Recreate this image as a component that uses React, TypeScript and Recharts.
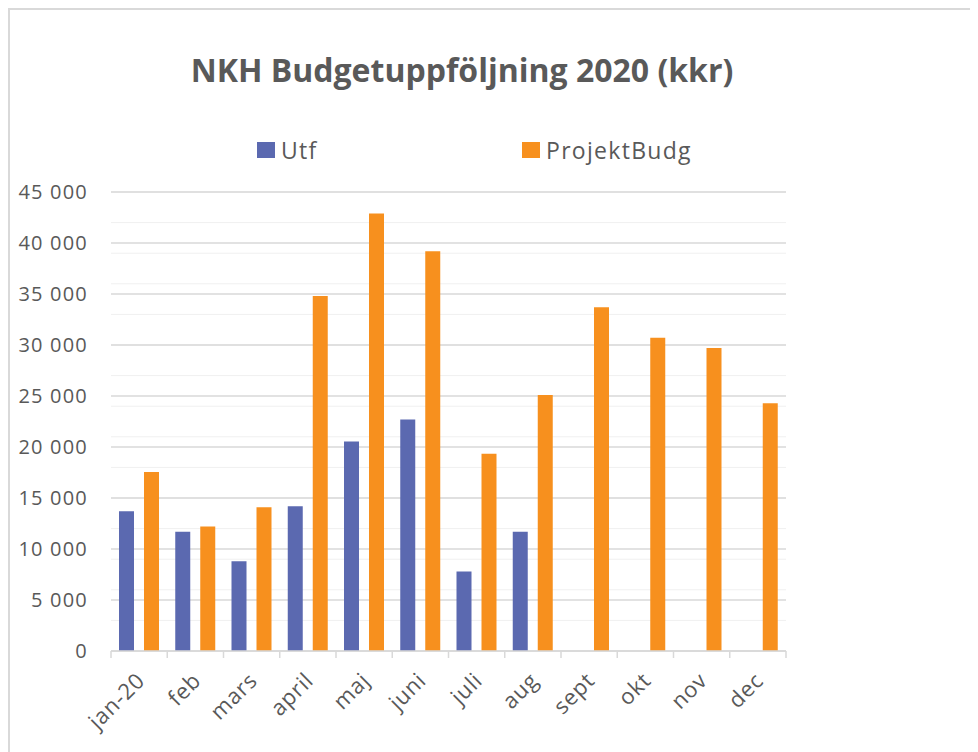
import { BarChart, Bar, XAxis, YAxis, CartesianGrid, Legend } from "recharts";

const months = ["jan-20", "feb", "mars", "april", "maj", "juni", "juli", "aug", "sept", "okt", "nov", "dec"];
const utf = [13700, 11700, 8800, 14200, 20550, 22700, 7800, 11700, null, null, null, null];
const projektBudg = [17550, 12200, 14100, 34800, 42900, 39200, 19350, 25100, 33700, 30700, 29700, 24300];
const yTicks = [0, 5000, 10000, 15000, 20000, 25000, 30000, 35000, 40000, 45000];
const minorTicks = Array.from({ length: 46 }, (_, i) => i * 1000);
const seriesOrder = ["Utf", "ProjektBudg"];

const data = months.map((m, i) => ({ name: m, Utf: utf[i], ProjektBudg: projektBudg[i] }));

const FONT = "'Open Sans', Lato, sans-serif";
const TEXT = "#595959";
const CHART_W = 960;
const CHART_H = 734;
const MARGIN = { top: 182, right: 184, left: 0, bottom: 0 };
const Y_W = 101;
const BAND = (CHART_W - MARGIN.right - Y_W) / months.length;

const fmt = (v: number) => String(v).replace(/\B(?=(\d{3})+(?!\d))/g, " ");

function MonthTick(props: any) {
  const { x, y, payload, index } = props;
  const last = index === months.length - 1;
  const tx = x + 7;
  const ty = y + 31;
  return (
    <g>
      <line x1={x - BAND / 2} x2={x - BAND / 2} y1={y} y2={y + 7} stroke="#d9d9d9" strokeWidth={1.5} />
      {last && <line x1={x + BAND / 2} x2={x + BAND / 2} y1={y} y2={y + 7} stroke="#d9d9d9" strokeWidth={1.5} />}
      <text
        x={tx}
        y={ty}
        textAnchor="end"
        fill={TEXT}
        fontSize={22}
        fontFamily={FONT}
        letterSpacing={0.8}
        transform={`rotate(-45, ${tx}, ${ty})`}
      >
        {payload.value}
      </text>
    </g>
  );
}

function LegendContent(props: any) {
  const items = [...(props.payload || [])].sort(
    (a: any, b: any) => seriesOrder.indexOf(a.value) - seriesOrder.indexOf(b.value)
  );
  return (
    <div style={{ display: "flex", fontFamily: FONT, fontSize: 23, letterSpacing: 1.3, color: TEXT }}>
      {items.map((p: any, i: number) => (
        <div key={p.value} style={{ display: "flex", alignItems: "center", width: i === 0 ? 265 : "auto" }}>
          <span style={{ display: "inline-block", width: 18, height: 16, background: p.color, marginRight: 6 }} />
          <span>{p.value}</span>
        </div>
      ))}
    </div>
  );
}

export default function App() {
  return (
    <div
      style={{
        position: "relative",
        width: 980,
        height: 760,
        borderTop: "2px solid #d9d9d9",
        borderLeft: "2px solid #d9d9d9",
        boxSizing: "border-box",
        background: "#fff",
      }}
    >
      <div
        style={{
          position: "absolute",
          top: 44,
          left: 0,
          width: 904,
          textAlign: "center",
          fontFamily: FONT,
          fontWeight: 700,
          fontSize: 32,
          lineHeight: 1,
          color: TEXT,
          zIndex: 2,
        }}
      >
        NKH Budgetuppföljning 2020 (kkr)
      </div>
      <BarChart width={CHART_W} height={CHART_H} data={data} margin={MARGIN} barSize={15} barGap={10}>
        <CartesianGrid vertical={false} horizontalValues={minorTicks} stroke="#f0f0f0" strokeWidth={1} />
        <CartesianGrid vertical={false} horizontalValues={yTicks} stroke="#d9d9d9" strokeWidth={1.3} />
        <XAxis
          dataKey="name"
          height={93}
          tickSize={0}
          tickMargin={0}
          tickLine={false}
          axisLine={{ stroke: "#d9d9d9", strokeWidth: 1.5 }}
          tick={<MonthTick />}
          interval={0}
        />
        <YAxis
          width={Y_W}
          domain={[0, 45000]}
          ticks={yTicks}
          axisLine={false}
          tickLine={false}
          tickSize={6}
          tickMargin={17}
          tickFormatter={fmt}
          tick={{ fill: TEXT, fontSize: 20, fontFamily: FONT, letterSpacing: 1.2 }}
        />
        <Legend
          layout="horizontal"
          verticalAlign="middle"
          align="center"
          content={<LegendContent />}
          wrapperStyle={{ top: 124, left: 247, width: "auto", height: "auto" }}
        />
        <Bar dataKey="Utf" fill="#5B69B0" isAnimationActive={false} />
        <Bar dataKey="ProjektBudg" fill="#F7901E" isAnimationActive={false} />
      </BarChart>
    </div>
  );
}
